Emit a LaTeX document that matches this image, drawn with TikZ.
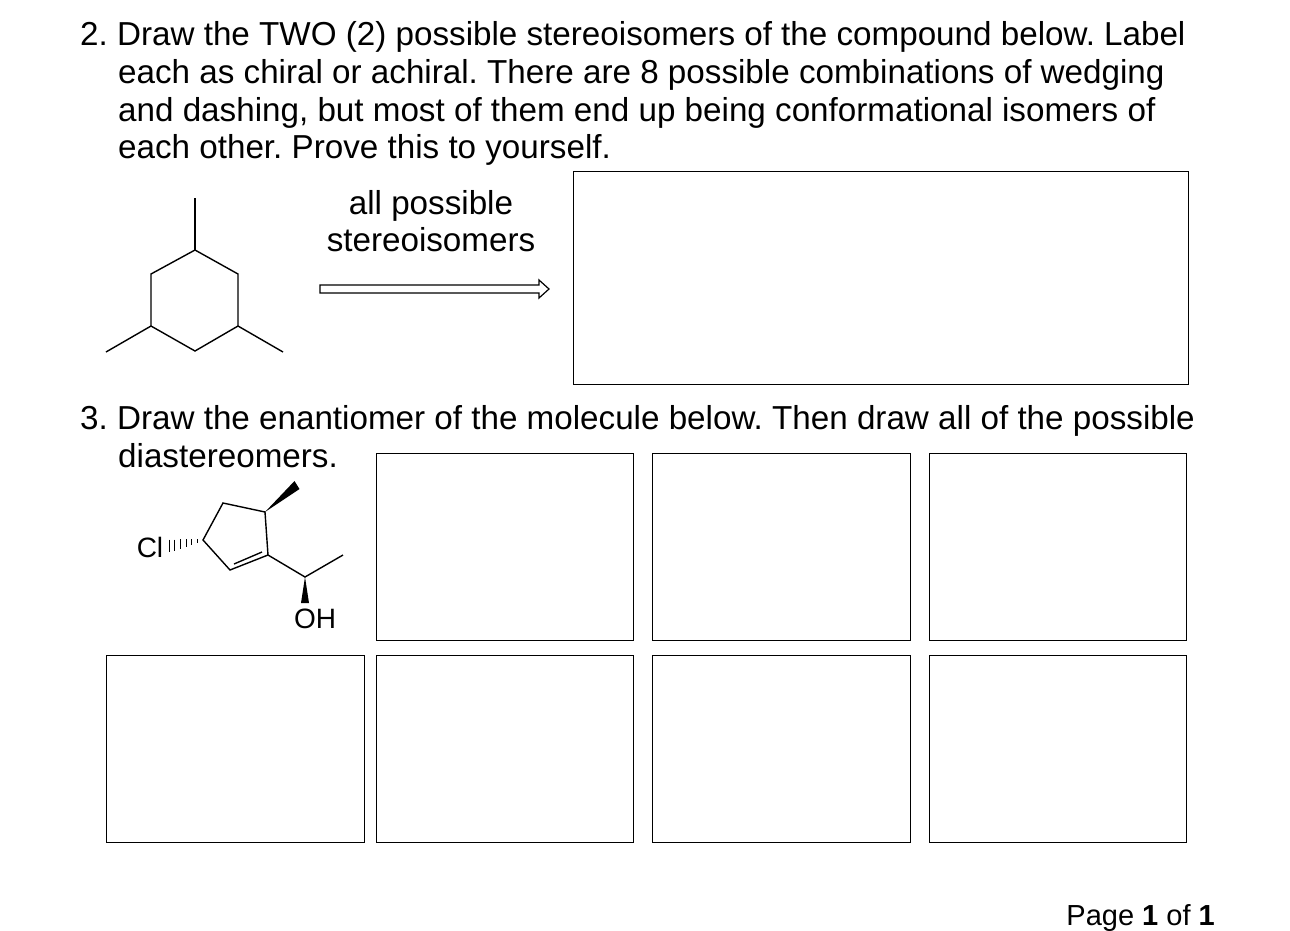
\documentclass[tikz,border=0pt]{standalone}
\usepackage{fontspec}
\setmainfont{Liberation Sans}
\usetikzlibrary{calc}
\frenchspacing
\begin{document}
\begin{tikzpicture}[x=1pt,y=-1pt,
    txt/.style={anchor=base west,inner sep=0pt,font=\fontsize{33.2}{38}\selectfont},
    box/.style={draw,line width=0.8pt},
    bond/.style={line width=1.4pt},
    atom/.style={inner sep=0pt,font=\fontsize{28}{32}\selectfont}]
    \useasboundingbox (0,0) rectangle (1290,930);

    % question 2
    \node[txt] (q2a) at (80,45) {2. Draw the TWO (2) possible stereoisomers of the compound below. Label};
    \node[txt] (q2b) at (118,83) {each as chiral or achiral. There are 8 possible combinations of wedging};
    \node[txt] (q2c) at (118,121) {and dashing, but most of them end up being conformational isomers of};
    \node[txt] (q2d) at (118,158) {each other. Prove this to yourself.};

    % cyclohexane
    \draw[bond] (195,250) -- (238,274) -- (238,326) -- (195,351) -- (151,326) -- (151,274) -- cycle;
    \draw[bond] (195,250) -- (195,198);
    \draw[bond] (151,326) -- (106,352);
    \draw[bond] (238,326) -- (283,352);

    % open arrow
    \node[txt,anchor=base] (lab1) at (431,214) {all possible};
    \node[txt,anchor=base] (lab2) at (431,251) {stereoisomers};
    \draw[line width=1.2pt,fill=white] (320,285) -- (539,285) -- (539,280) -- (549,289)
        -- (539,298) -- (539,293) -- (320,293) -- cycle;
    \draw[box] (573,171) rectangle (1188,384);

    % question 3
    \node[txt] (q3a) at (80,429) {3. Draw the enantiomer of the molecule below. Then draw all of the possible};
    \node[txt] (q3b) at (118,467) {diastereomers.};

    % cyclopentene
    \coordinate (c1) at (268,555);
    \coordinate (c2) at (265,512);
    \coordinate (c3) at (223,503);
    \coordinate (c4) at (203,540);
    \coordinate (c5) at (230,570);
    \coordinate (coh) at (305,577);
    \draw[bond] (c1) -- (c2) -- (c3) -- (c4) -- (c5) -- (c1) -- (coh) -- (343,555);
    \draw[bond] (234,564) -- (262,552);
    \fill (c2) -- ($(297,485)+(2.5,4)$) -- ($(297,485)-(2.5,4)$) -- cycle;
    \fill (coh) -- ($(305,603)+(4,0)$) -- ($(305,603)-(4,0)$) -- cycle;
    \node[atom] (cl) at (150,547) {Cl};
    \node[atom] (oh) at (315,619) {OH};
    \foreach \i in {0,...,6}
        \draw[line width=1pt] ($(c4)!\i/7!(cl.east)+(0,{-1-\i*0.9})$) -- ($(c4)!\i/7!(cl.east)+(0,{1+\i*0.9})$);

    % boxes
    \draw[box] (376,453) rectangle (633,640);
    \draw[box] (652,453) rectangle (910,640);
    \draw[box] (929,453) rectangle (1186,640);
    \draw[box] (106,655) rectangle (364,842);
    \draw[box] (376,655) rectangle (633,842);
    \draw[box] (652,655) rectangle (910,842);
    \draw[box] (929,655) rectangle (1186,842);

    \node[txt,anchor=base east,font=\fontsize{29}{35}\selectfont] (page) at (1215,925) {Page \textbf{1} of \textbf{1}};
\end{tikzpicture}
\end{document}
